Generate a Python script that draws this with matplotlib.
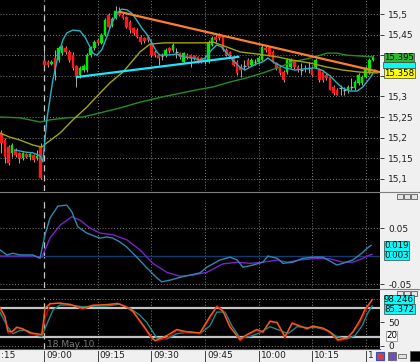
import matplotlib
matplotlib.use("Agg")
import matplotlib.pyplot as plt
from matplotlib.lines import Line2D
from matplotlib.patches import Rectangle

W, H = 420, 362
AXIS_BG = "#f0f0f0"
GRID = "#808080"

# ---- candles, one per minute (minutes from 09:00; negatives = previous session)
bar_min = list(range(-12, 93))
opens = [15.211, 15.194, 15.177, 15.163, 15.170, 15.163, 15.151, 15.160, 15.153, 15.158, 15.151, 15.177,
         15.386, 15.384, 15.379, 15.393, 15.388, 15.405, 15.417, 15.408, 15.400, 15.374, 15.352, 15.364,
         15.364, 15.400, 15.417, 15.437, 15.430, 15.449, 15.498, 15.473, 15.490, 15.505, 15.498, 15.493,
         15.481, 15.466, 15.461, 15.444, 15.442, 15.444, 15.430, 15.408, 15.400, 15.398, 15.400, 15.417,
         15.413, 15.408, 15.405, 15.384, 15.400, 15.400, 15.398, 15.396, 15.393, 15.391, 15.384, 15.425,
         15.444, 15.449, 15.444, 15.413, 15.408, 15.393, 15.384, 15.371, 15.374, 15.388, 15.376, 15.384,
         15.384, 15.388, 15.417, 15.417, 15.408, 15.381, 15.369, 15.359, 15.359, 15.371, 15.384, 15.371,
         15.364, 15.369, 15.369, 15.369, 15.371, 15.364, 15.359, 15.352, 15.347, 15.323, 15.316, 15.320,
         15.316, 15.316, 15.323, 15.320, 15.333, 15.333, 15.347, 15.357, 15.388]
closes = [15.187, 15.153, 15.138, 15.182, 15.158, 15.151, 15.163, 15.153, 15.160, 15.146, 15.156, 15.102,
          15.376, 15.376, 15.384, 15.364, 15.417, 15.420, 15.408, 15.388, 15.369, 15.350, 15.369, 15.374,
          15.400, 15.417, 15.432, 15.430, 15.449, 15.485, 15.468, 15.488, 15.507, 15.498, 15.490, 15.468,
          15.461, 15.454, 15.444, 15.432, 15.434, 15.437, 15.400, 15.400, 15.393, 15.397, 15.413, 15.410,
          15.425, 15.407, 15.396, 15.405, 15.396, 15.393, 15.393, 15.384, 15.386, 15.388, 15.430, 15.442,
          15.437, 15.442, 15.413, 15.400, 15.400, 15.376, 15.357, 15.364, 15.373, 15.374, 15.388, 15.383,
          15.393, 15.420, 15.413, 15.400, 15.384, 15.369, 15.357, 15.340, 15.388, 15.388, 15.371, 15.364,
          15.363, 15.368, 15.368, 15.352, 15.388, 15.340, 15.340, 15.345, 15.316, 15.308, 15.303, 15.319,
          15.315, 15.323, 15.322, 15.335, 15.352, 15.347, 15.369, 15.388, 15.395]
highs = [15.218, 15.199, 15.182, 15.187, 15.175, 15.165, 15.165, 15.163, 15.163, 15.160, 15.170, 15.187,
         15.413, 15.388, 15.388, 15.413, 15.422, 15.425, 15.422, 15.413, 15.408, 15.376, 15.374, 15.379,
         15.405, 15.422, 15.437, 15.442, 15.454, 15.490, 15.502, 15.493, 15.519, 15.517, 15.502, 15.495,
         15.485, 15.468, 15.466, 15.449, 15.444, 15.449, 15.437, 15.413, 15.403, 15.405, 15.417, 15.420,
         15.430, 15.417, 15.408, 15.408, 15.405, 15.403, 15.400, 15.398, 15.396, 15.400, 15.437, 15.447,
         15.449, 15.454, 15.449, 15.417, 15.410, 15.398, 15.388, 15.379, 15.388, 15.393, 15.393, 15.391,
         15.398, 15.425, 15.422, 15.420, 15.413, 15.384, 15.374, 15.364, 15.393, 15.393, 15.388, 15.376,
         15.381, 15.376, 15.384, 15.374, 15.393, 15.369, 15.364, 15.357, 15.352, 15.328, 15.320, 15.328,
         15.323, 15.328, 15.345, 15.340, 15.357, 15.352, 15.374, 15.393, 15.400]
lows = [15.163, 15.138, 15.134, 15.153, 15.153, 15.138, 15.146, 15.151, 15.146, 15.141, 15.146, 15.100,
        15.374, 15.371, 15.376, 15.340, 15.384, 15.400, 15.403, 15.384, 15.364, 15.323, 15.345, 15.359,
        15.359, 15.396, 15.413, 15.425, 15.427, 15.447, 15.466, 15.468, 15.488, 15.495, 15.488, 15.466,
        15.454, 15.449, 15.442, 15.427, 15.430, 15.432, 15.396, 15.396, 15.376, 15.388, 15.396, 15.405,
        15.408, 15.393, 15.391, 15.381, 15.391, 15.371, 15.388, 15.381, 15.381, 15.379, 15.381, 15.422,
        15.432, 15.437, 15.410, 15.398, 15.396, 15.374, 15.352, 15.347, 15.364, 15.371, 15.374, 15.376,
        15.379, 15.386, 15.408, 15.398, 15.381, 15.364, 15.352, 15.335, 15.354, 15.369, 15.367, 15.359,
        15.352, 15.359, 15.357, 15.350, 15.369, 15.335, 15.335, 15.340, 15.316, 15.303, 15.303, 15.303,
        15.303, 15.308, 15.316, 15.316, 15.328, 15.328, 15.345, 15.354, 15.386]

# ---- moving averages (minute, price)
ma_fast_t = [-8.2, -5.4, -3.2, -1.2, -0.4, 0.7, 2.4, 3.8, 5.2, 6.3, 8.0, 10.0, 11.4, 12.8, 13.6, 14.7,
             16.1, 17.5, 18.9, 20.3, 21.7, 23.1, 24.5, 25.9, 27.3, 28.7, 30.1, 31.5, 32.4, 34.3, 37.1,
             38.8, 41.6, 43.6, 45.0, 46.9, 48.3, 49.7, 51.1, 52.8, 54.8, 56.2, 57.6, 59.5, 61.2, 62.6,
             64.6, 67.4, 70.2, 73.0, 75.8, 77.7, 80.0, 81.9, 83.6, 85.6, 87.6, 89.2, 91.2, 92.6]
ma_fast_v = [15.170, 15.165, 15.163, 15.156, 15.141, 15.243, 15.340, 15.396, 15.437, 15.454, 15.461,
             15.459, 15.444, 15.420, 15.405, 15.400, 15.413, 15.444, 15.478, 15.502, 15.512, 15.510,
             15.502, 15.485, 15.466, 15.451, 15.430, 15.408, 15.400, 15.400, 15.403, 15.396, 15.393,
             15.388, 15.393, 15.413, 15.425, 15.420, 15.405, 15.388, 15.371, 15.364, 15.371, 15.379,
             15.384, 15.393, 15.381, 15.369, 15.364, 15.367, 15.369, 15.364, 15.350, 15.333, 15.320,
             15.313, 15.313, 15.323, 15.345, 15.364]
ma_mid_t = [-12.4, -9.6, -6.8, -3.2, -0.7, 0.7, 4.4, 8.0, 11.9, 15.6, 18.4, 22.0, 24.0, 26.8, 29.6,
            33.8, 39.4, 45.5, 47.2, 51.1, 54.8, 59.5, 65.2, 69.6, 74.4, 79.2, 83.6, 88.4, 93.2]
ma_mid_v = [15.211, 15.201, 15.194, 15.182, 15.177, 15.187, 15.211, 15.243, 15.274, 15.308, 15.333,
            15.359, 15.379, 15.408, 15.427, 15.430, 15.430, 15.430, 15.432, 15.420, 15.408, 15.403,
            15.396, 15.388, 15.381, 15.371, 15.364, 15.359, 15.357]
ma_slow_t = [-12.4, -6.8, -1.2, 1.6, 6.3, 10.8, 15.6, 21.2, 26.8, 33.2, 42.7, 47.2, 52.0, 56.7, 61.2,
             65.2, 69.6, 74.4, 79.2, 81.9, 84.8, 88.4, 92.0]
ma_slow_v = [15.250, 15.248, 15.238, 15.243, 15.248, 15.250, 15.260, 15.272, 15.286, 15.299, 15.316,
             15.323, 15.335, 15.345, 15.357, 15.369, 15.384, 15.393, 15.405, 15.405, 15.400, 15.398, 15.396]

# trend lines (start, end)
trend_orange_t = [21.2, 94.0]
trend_orange_v = [15.505, 15.359]
trend_cyan_t = [9.1, 54.3]
trend_cyan_v = [15.347, 15.396]

# ---- oscillator (MACD style)
osc_a_t = [-12.4, -10.5, -8.8, -6.8, -3.2, -1.2, 0.2, 1.6, 3.8, 6.3, 7.7, 9.4, 11.9, 14.7, 15.6, 17.5,
           19.2, 21.2, 23.1, 25.9, 28.7, 31.5, 32.9, 35.2, 38.0, 40.8, 43.6, 45.5, 49.2, 52.0, 54.0,
           55.6, 58.4, 61.2, 62.6, 65.2, 66.8, 69.6, 72.4, 75.2, 78.0, 80.0, 81.9, 83.6, 86.4, 88.9,
           90.4, 91.5]
osc_a_v = [0.011, 0.002, 0.005, 0.002, 0.002, -0.004, 0.038, 0.068, 0.089, 0.091, 0.079, 0.052, 0.041,
           0.034, 0.032, 0.034, 0.032, 0.025, 0.016, -0.002, -0.021, -0.039, -0.046, -0.043, -0.038,
           -0.034, -0.030, -0.020, -0.007, -0.002, -0.007, -0.020, -0.016, -0.011, 0.000, -0.004,
           -0.013, -0.011, -0.004, -0.002, -0.002, -0.009, -0.016, -0.013, -0.007, 0.005, 0.014, 0.019]
osc_b_t = [-12.4, -3.2, -0.7, 1.6, 4.4, 7.7, 10.0, 12.8, 15.6, 19.2, 23.1, 26.8, 30.4, 34.3, 38.0,
           41.6, 45.5, 50.0, 54.0, 57.6, 61.2, 65.2, 68.0, 71.6, 76.3, 80.0, 83.6, 86.4, 89.2, 91.2, 91.8]
osc_b_v = [0.000, 0.000, -0.002, 0.032, 0.055, 0.070, 0.064, 0.050, 0.041, 0.038, 0.029, 0.011, -0.013,
           -0.029, -0.036, -0.034, -0.029, -0.014, -0.011, -0.013, -0.011, -0.007, -0.011, -0.007,
           -0.004, -0.005, -0.011, -0.011, -0.004, 0.002, 0.003]

# ---- stochastic
st_red_t = [-12.4, -11.0, -10.2, -9.1, -7.7, -6.0, -4.0, -2.1, -0.7, 0.2, 1.6, 4.4, 7.2, 10.8, 13.6,
            17.5, 20.6, 23.1, 24.8, 27.6, 30.1, 31.5, 34.3, 37.1, 39.9, 43.6, 46.4, 48.3, 50.0, 52.0,
            54.8, 56.7, 59.5, 61.2, 63.2, 65.2, 67.4, 69.4, 71.6, 73.6, 75.2, 78.0, 80.0, 82.2, 84.8,
            86.4, 88.4, 89.8, 91.8]
st_red_v = [80, 59, 28, 28, 39, 37, 26, 24, 22, 59, 89, 91, 89, 78, 87, 87, 91, 83, 72, 43, 15, 11, 17,
            33, 28, 26, 59, 85, 76, 43, 11, 22, 33, 28, 54, 48, 17, 50, 43, 35, 43, 37, 28, 11, 15, 28,
            50, 72, 98]
st_orange_t = [-12.4, -11.0, -10.2, -9.1, -7.7, -6.0, -4.0, -2.1, -0.7, 0.2, 1.6, 4.4, 7.2, 10.8, 13.6,
               17.5, 20.6, 23.1, 24.8, 27.6, 30.1, 31.0, 34.3, 37.1, 39.9, 43.6, 46.4, 48.3, 50.0, 52.0,
               54.8, 56.7, 59.5, 61.2, 63.2, 65.2, 67.4, 69.4, 71.6, 73.6, 75.2, 78.0, 80.0, 82.2, 84.8,
               86.4, 88.4, 89.8, 91.8]
st_orange_v = [82, 62, 32, 30, 40, 36, 28, 26, 24, 80, 90, 91, 88, 80, 86, 88, 90, 82, 74, 45, 18, 11,
               22, 35, 30, 28, 63, 83, 74, 40, 14, 24, 35, 30, 52, 50, 20, 48, 42, 37, 42, 38, 30, 13,
               17, 30, 55, 78, 98]
st_teal_t = [-12.4, -10.5, -8.8, -6.8, -4.9, -2.6, -0.7, 0.2, 2.4, 4.4, 7.2, 10.8, 14.2, 17.5, 21.2,
             24.0, 26.8, 28.7, 31.5, 34.3, 37.1, 40.8, 43.6, 46.4, 48.3, 50.6, 52.5, 54.8, 57.6, 60.4,
             63.2, 66.0, 68.2, 70.8, 73.6, 76.3, 79.2, 81.9, 84.8, 87.0, 89.0, 90.6, 91.8]
st_teal_v = [72, 43, 26, 33, 33, 24, 20, 37, 76, 87, 87, 83, 85, 85, 89, 80, 65, 50, 17, 15, 26, 30,
             26, 43, 72, 72, 43, 17, 20, 28, 41, 33, 26, 41, 39, 39, 33, 20, 15, 22, 43, 70, 85]

time_ticks = [0, 15, 30, 45, 60, 75, 90]
# the 10:30 label is cut by the toolbar icons, only its first digit shows
time_labels = ["09:00", "09:15", "09:30", "09:45", "10:00", "10:15", "1"]
price_ticks = [15.1, 15.15, 15.2, 15.25, 15.3, 15.35, 15.4, 15.45, 15.5]
# 15,35 and 15,4 sit under the last-value boxes
price_labels = ["15,1", "15,15", "15,2", "15,25", "15,3", "", "", "15,45", "15,5"]

fig = plt.figure(figsize=(W / 100, H / 100), dpi=100, facecolor=AXIS_BG)


def px_axes(x0, y0, x1, y1):
    return fig.add_axes([x0 / W, 1 - y1 / H, (x1 - x0) / W, (y1 - y0) / H])


def fig_y(y):
    return 1 - y / H


def fig_rect(x0, y0, x1, y1, **kw):
    fig.add_artist(Rectangle((x0 / W, fig_y(y1)), (x1 - x0) / W, (y1 - y0) / H,
                             transform=fig.transFigure, **kw))


# black chart column behind the panels
fig_rect(0, 0, 380, 349, facecolor="black", edgecolor="none", zorder=0)

ax_p = px_axes(0, 0, 380, 191)
ax_o = px_axes(0, 200, 380, 288)
ax_s = px_axes(0, 297, 380, 349)

for ax in (ax_p, ax_o, ax_s):
    ax.set_facecolor("black")
    ax.set_xlim(-12.4, 94.0)
    ax.yaxis.tick_right()
    ax.set_xticks([])
    for sp in ax.spines.values():
        sp.set_visible(False)
    ax.tick_params(axis="y", direction="out", length=3, width=0.6, pad=3,
                   labelsize=6.5, colors="#202020")
    for m in time_ticks[1:]:
        ax.axvline(m, color=GRID, lw=0.7, ls=(0, (1, 2)), zorder=0)
    ax.axvline(0, color="#c8c8c8", lw=0.9, ls=(0, (5, 3)), zorder=1)

# ---- price panel
ax_p.set_ylim(15.0704, 15.534)
ax_p.set_yticks(price_ticks)
ax_p.set_yticklabels(price_labels)
for lv in price_ticks:
    ax_p.axhline(lv, color=GRID, lw=0.7, ls=(0, (1, 2)), zorder=0)

for m, o, h, l, c in zip(bar_min, opens, highs, lows, closes):
    ax_p.vlines(m, l, h, color="#a8a8a8", lw=0.7, zorder=2)
    if abs(c - o) < 0.0015:
        ax_p.hlines(o, m - 0.35, m + 0.35, color="#b0b0b0", lw=1.0, zorder=3)
    else:
        col = "#00e800" if c > o else "#ff1a1a"
        ax_p.bar(m, c - o, bottom=o, width=0.72, color=col, edgecolor=col, lw=0.3, zorder=3)

ax_p.plot(ma_slow_t, ma_slow_v, color="#1f8f1f", lw=1.0, zorder=4)
ax_p.plot(ma_mid_t, ma_mid_v, color="#a6a600", lw=1.0, zorder=4)
ax_p.plot(ma_fast_t, ma_fast_v, color="#1fb4c6", lw=1.0, zorder=5)
ax_p.plot(trend_orange_t, trend_orange_v, color="#ff7f27", lw=1.6, zorder=6)
ax_p.plot(trend_cyan_t, trend_cyan_v, color="#19e6ff", lw=1.6, zorder=6)

# ---- oscillator panel
ax_o.set_ylim(-0.057, 0.100)
ax_o.set_yticks([-0.05, 0.05])
ax_o.set_yticklabels(["-0.05", "0.05"])
for lv in (-0.05, 0.05):
    ax_o.axhline(lv, color=GRID, lw=0.7, ls=(0, (1, 2)), zorder=0)
ax_o.axhline(0, color="#0d3c6e", lw=1.0, zorder=1)
ax_o.plot(osc_b_t, osc_b_v, color="#7b22c8", lw=1.0, zorder=3)
ax_o.plot(osc_a_t, osc_a_v, color="#2a8ab0", lw=1.0, zorder=4)

# ---- stochastic panel
ax_s.set_ylim(-6.5, 104)
ax_s.set_yticks([0, 50])
ax_s.set_yticklabels(["0", "50"])
for lv in (0, 100):
    ax_s.axhline(lv, color=GRID, lw=0.7, ls=(0, (1, 2)), zorder=0)
for lv in (20, 80):
    ax_s.axhline(lv, color="#c4c4c4", lw=1.6, zorder=1)
ax_s.plot(st_teal_t, st_teal_v, color="#1b8a8a", lw=1.0, zorder=3)
ax_s.plot(st_red_t, st_red_v, color="#cc0000", lw=1.0, zorder=4)
ax_s.plot(st_orange_t, st_orange_v, color="#e8641e", lw=1.0, zorder=5)


def value_box(yc, text, fc, ec="#404040", x=384):
    # last-value labels sit in the right gutter, stacked like the terminal does
    fig.text(x / W, fig_y(yc), text, fontsize=6.2, color="black", va="center", ha="left",
             zorder=40, bbox=dict(boxstyle="square,pad=0.05", fc=fc, ec=ec, lw=0.5))


# cyan fast-MA label is hidden behind its neighbours, only a sliver shows
fig_rect(383, 62, 415, 68, facecolor="#00ffff", edgecolor="#404040", lw=0.5, zorder=39)
value_box(57.5, "15.395", "#2db82d")
value_box(73.0, "15.358", "#ffff00")
value_box(246.0, "0.019", "#00ffff")
value_box(255.5, "0.003", "#00ffff")
value_box(299.5, "98.246", "#00ffff")
value_box(309.0, "85.372", "#00ffff")
value_box(336.0, "20", "white", ec="#808080", x=386)

# panel separators and window buttons
for ys in (192, 289):
    fig.add_artist(Line2D([0, 1], [fig_y(ys)] * 2, transform=fig.transFigure,
                          color="#808080", lw=0.8, zorder=30))
    for bx in (397, 404, 411):
        fig_rect(bx, ys + 2, bx + 6, ys + 7, facecolor="#e4e4e4", edgecolor="#404040",
                 lw=0.5, zorder=31)

# ---- time axis
fig.add_artist(Line2D([0, 380 / W], [fig_y(349)] * 2, transform=fig.transFigure,
                      color="#606060", lw=0.8, zorder=30))
fig.text(47 / W, fig_y(349), "18 May 10", color="#7a7a7a", fontsize=6.5, va="bottom", zorder=30)
fig.text(0.5 / W, fig_y(356), ":15", fontsize=6.5, color="#202020", va="center", ha="left")
for m, lab in zip(time_ticks, time_labels):
    xp = ax_s.transData.transform((m, 0))[0]
    fig.add_artist(Line2D([xp / W] * 2, [fig_y(351), 0], transform=fig.transFigure,
                          color="#404040", lw=0.7, zorder=30))
    fig.text((xp + 2) / W, fig_y(356), lab, fontsize=6.5, color="#202020", va="center",
             ha="left", zorder=30)

# little toolbar icons at the bottom right
fig_rect(376, 352, 384, 360, facecolor="#d04040", edgecolor="#3050c0", lw=0.8, zorder=36)
fig_rect(388, 352, 396, 360, facecolor="#7050b0", edgecolor="#505050", lw=0.5, zorder=36)
fig_rect(398, 354, 406, 358, facecolor="#e0e0e0", edgecolor="#505050", lw=0.5, zorder=36)
fig_rect(410, 351, 420, 361, facecolor="black", edgecolor="#505050", lw=0.5, zorder=36)

fig.savefig("out.png", dpi=100, facecolor=AXIS_BG)
